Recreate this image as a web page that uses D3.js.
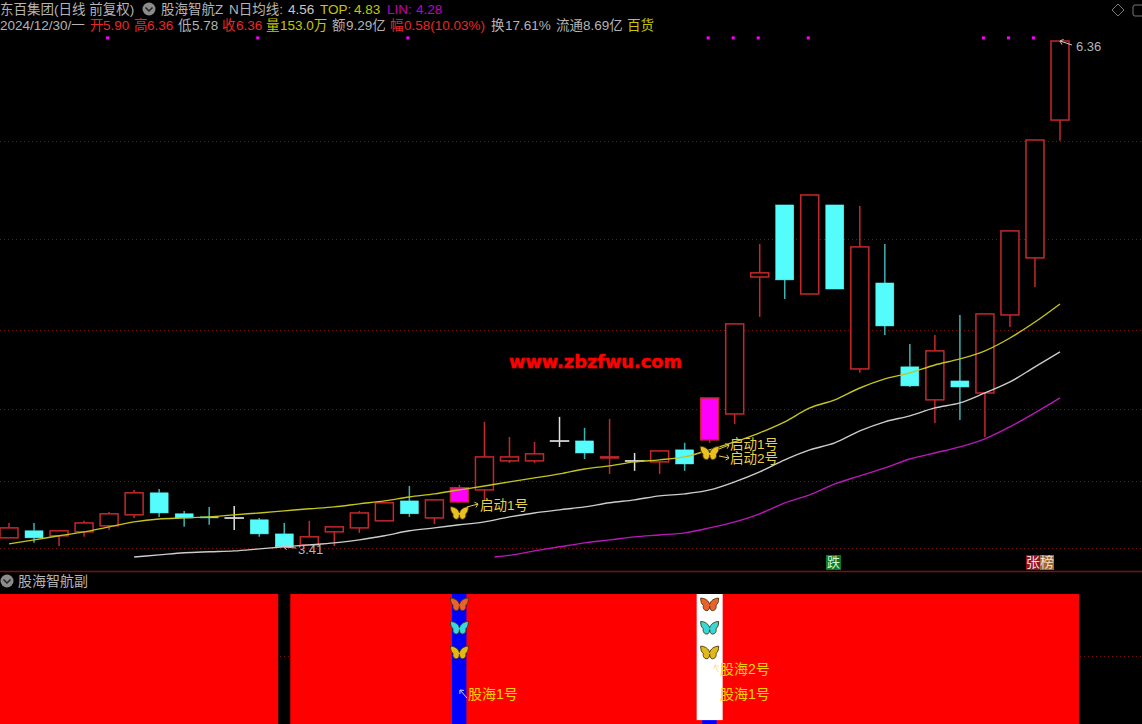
<!DOCTYPE html>
<html>
<head>
<meta charset="utf-8">
<script src="https://cdn.jsdelivr.net/npm/d3@7"></script>
<style>
  html, body { margin: 0; padding: 0; background: #000; overflow: hidden; }
  text { font-family: "Liberation Sans", "Noto Sans CJK SC", sans-serif; }
</style>
</head>
<body>
<div id="chart"></div>
<script>
// daily candles
var opens  = [3.469,3.510,3.481,3.504,3.539,3.603,3.731,3.609,3.591,3.585,3.574,3.492,3.428,3.504,3.527,3.568,3.684,3.585,3.678,3.748,3.917,3.917,4.033,4.033,3.934,3.917,3.911,3.981,4.039,4.190,4.987,5.406,4.888,5.406,4.452,4.952,4.464,4.272,4.382,4.312,4.766,5.098,5.90];
var closes = [3.527,3.469,3.510,3.556,3.609,3.731,3.614,3.585,3.585,3.585,3.492,3.417,3.475,3.533,3.614,3.673,3.609,3.690,3.760,3.940,3.940,3.958,4.033,3.963,3.940,3.917,3.975,3.899,4.283,4.714,5.011,4.970,5.464,4.917,5.162,4.702,4.353,4.557,4.347,4.772,5.255,5.784,6.36];
var highs  = [3.556,3.556,3.510,3.568,3.620,3.748,3.754,3.626,3.649,3.655,3.585,3.556,3.568,3.533,3.626,3.673,3.771,3.690,3.777,4.144,4.056,4.027,4.173,4.109,4.161,3.963,3.975,4.022,4.283,4.714,5.179,5.406,5.464,5.406,5.400,5.179,4.597,4.650,4.766,4.772,5.255,5.784,6.36];
var lows   = [3.469,3.440,3.422,3.475,3.515,3.585,3.591,3.533,3.545,3.515,3.475,3.417,3.428,3.422,3.498,3.568,3.591,3.550,3.672,3.690,3.905,3.905,3.998,3.928,3.841,3.859,3.841,3.859,4.022,4.132,4.755,4.859,4.888,4.917,4.429,4.650,4.347,4.138,4.155,4.056,4.696,4.929,5.78];
var highlighted = [18, 28];

// indicator lines
var topLine = [3.434,3.457,3.481,3.504,3.533,3.562,3.579,3.585,3.591,3.603,3.614,3.626,3.638,3.649,3.667,3.684,3.707,3.725,3.748,3.771,3.795,3.818,3.841,3.870,3.888,3.911,3.923,3.940,3.981,4.027,4.080,4.144,4.225,4.272,4.341,4.394,4.429,4.475,4.510,4.557,4.632,4.725,4.830];
var maIdx  = d3.range(5, 43);
var maLine = [3.358,3.370,3.382,3.388,3.393,3.405,3.417,3.428,3.440,3.457,3.481,3.510,3.527,3.545,3.562,3.591,3.614,3.632,3.649,3.673,3.690,3.713,3.725,3.748,3.795,3.853,3.923,3.981,4.022,4.091,4.144,4.179,4.225,4.254,4.312,4.376,4.464,4.551];
var linIdx  = [19.4].concat(d3.range(20, 43));
var linLine = [3.358,3.367,3.393,3.417,3.440,3.457,3.475,3.486,3.498,3.527,3.562,3.609,3.673,3.719,3.783,3.830,3.876,3.928,3.963,3.998,4.045,4.115,4.196,4.283];

var gridPrices = [5.78,5.21,4.68,4.22,3.80,3.41];
var dotIdx = [4,10,16,28,29,30,32,39,40,41];
var dotPrice = 6.378;

// lower panel
var subRed = d3.range(0, 43).filter(function (i) { return i != 11; });
var subGrid = [52];
var subBlue = [18, 28];
var subWhite = [28];
var subWhiteLow = 3;
var subFlyLevels = [92, 74, 55];
var subFlyColors = ["#e8622c", "#38d8d8", "#e0b818"];

var width = 1142, height = 724;
var bodyWidth = 18;

var svg = d3.select("#chart")
    .append("svg")
    .attr("width", width)
    .attr("height", height)
    .style("display", "block")
    .style("background", "#000");

var x = d3.scaleLinear().domain([0, 42]).range([9, 1060]);
var y = d3.scaleLinear().domain([3.41, 6.36]).range([548, 41]);
var ySub = d3.scaleLinear().domain([0, 100]).range([724, 594]);

// dotted grid
svg.selectAll(".grid")
    .data(gridPrices)
    .enter()
    .append("line")
    .attr("class", "grid")
    .attr("x1", 0)
    .attr("x2", width)
    .attr("y1", d => Math.round(y(d)) + 0.5)
    .attr("y2", d => Math.round(y(d)) + 0.5)
    .attr("stroke", "#7a1414")
    .attr("stroke-dasharray", "1 3");

svg.selectAll(".subgrid")
    .data(subGrid)
    .enter()
    .append("line")
    .attr("class", "subgrid")
    .attr("x1", 0)
    .attr("x2", width)
    .attr("y1", d => Math.round(ySub(d)) + 0.5)
    .attr("y2", d => Math.round(ySub(d)) + 0.5)
    .attr("stroke", "#7a1414")
    .attr("stroke-dasharray", "1 3");

// panel divider
svg.append("line")
    .attr("x1", 0).attr("x2", width)
    .attr("y1", 571.5).attr("y2", 571.5)
    .attr("stroke", "#7c1010")
    .attr("stroke-width", 1.5);

function candle_color(i) {
    if (closes[i] > opens[i]) return "#c4282c";
    if (closes[i] < opens[i]) return "#54fcfc";
    return "#e0e0e0";
}

function wick_color(i) {
    if (closes[i] < opens[i]) return "#3cb4b4";
    return candle_color(i);
}

var candles = svg.selectAll(".candle")
    .data(d3.range(opens.length))
    .enter()
    .append("g")
    .attr("class", "candle");

candles.append("line")
    .attr("x1", i => x(i)).attr("x2", i => x(i))
    .attr("y1", i => y(highs[i]))
    .attr("y2", i => y(Math.max(opens[i], closes[i])))
    .attr("stroke", wick_color)
    .attr("stroke-width", 1.5);

candles.append("line")
    .attr("x1", i => x(i)).attr("x2", i => x(i))
    .attr("y1", i => y(Math.min(opens[i], closes[i])))
    .attr("y2", i => y(lows[i]))
    .attr("stroke", wick_color)
    .attr("stroke-width", 1.5);

// a doji still needs a visible bar, so the height never goes to zero
candles.append("rect")
    .attr("x", i => x(i) - bodyWidth / 2)
    .attr("width", bodyWidth)
    .attr("y", i => y(Math.max(opens[i], closes[i])))
    .attr("height", i => Math.max(Math.abs(y(opens[i]) - y(closes[i])), 0.2))
    .attr("fill", function (i) {
	if (highlighted.indexOf(i) >= 0) return "#ff00ff";
	return closes[i] < opens[i] ? "#54fcfc" : "#000";
    })
    .attr("stroke", i => highlighted.indexOf(i) >= 0 ? "#c4282c" : candle_color(i))
    .attr("stroke-width", i => closes[i] < opens[i] ? 0.5 : 1.5);

// indicator lines
var line = d3.line()
    .x(d => x(d[0]))
    .y(d => y(d[1]))
    .curve(d3.curveMonotoneX);

svg.append("path")
    .attr("d", line(topLine.map((v, i) => [i, v])))
    .attr("fill", "none")
    .attr("stroke", "#c4c41c")
    .attr("stroke-width", 1.4);

svg.append("path")
    .attr("d", line(maLine.map((v, i) => [maIdx[i], v])))
    .attr("fill", "none")
    .attr("stroke", "#cccccc")
    .attr("stroke-width", 1.4);

svg.append("path")
    .attr("d", line(linLine.map((v, i) => [linIdx[i], v])))
    .attr("fill", "none")
    .attr("stroke", "#b818b8")
    .attr("stroke-width", 1.4);

// signal dots along the top
svg.selectAll(".dot")
    .data(dotIdx)
    .enter()
    .append("rect")
    .attr("class", "dot")
    .attr("x", d => x(d) - 3)
    .attr("y", y(dotPrice) - 1.5)
    .attr("width", 3)
    .attr("height", 3)
    .attr("fill", "#ff00ff");

var fly = "M0,0 C-1,-4 -5,-7 -10,-7 C-10,-3 -9,0 -7,1 C-8,4 -6,7 -3,7 C-1,7 0,4 0,2 C0,4 1,7 3,7 C6,7 8,4 7,1 C9,0 10,-3 10,-7 C5,-7 1,-4 0,0Z";

function draw_fly(px, py, color, scale) {
    svg.append("path")
	.attr("d", fly)
	.attr("transform", "translate(" + px + "," + py + ") scale(" + scale + ")")
	.attr("fill", color)
	.attr("stroke", "#4a3408")
	.attr("stroke-width", 1);
}

function label(px, py, txt, color, size) {
    return svg.append("text")
	.attr("x", px)
	.attr("y", py)
	.attr("font-size", size)
	.attr("fill", color)
	.text(txt);
}

function arrow(x1, y1, x2, y2, color) {
    svg.append("line")
	.attr("x1", x1).attr("y1", y1)
	.attr("x2", x2).attr("y2", y2)
	.attr("stroke", color)
	.attr("stroke-width", 1);
    var a = Math.atan2(y2 - y1, x2 - x1);
    [2.5, -2.5].forEach(function (t) {
	svg.append("line")
	    .attr("x1", x2).attr("y1", y2)
	    .attr("x2", x2 - 4 * Math.cos(a + t * 0.3))
	    .attr("y2", y2 - 4 * Math.sin(a + t * 0.3))
	    .attr("stroke", color)
	    .attr("stroke-width", 1);
    });
}

// start markers on the candles
var gold = "#e8d048";
draw_fly(x(18), 513, "#e8c020", 0.9);
draw_fly(x(28), 453, "#e8c020", 0.95);
arrow(467, 507, 478, 504, gold);
label(480, 510, "启动1号", gold, 13.5);
arrow(719, 449, 729, 445, gold);
arrow(719, 456, 729, 458, gold);
label(730, 449, "启动1号", gold, 13.5);
label(730, 463, "启动2号", gold, 13.5);

// high and low tags
arrow(1072, 45, 1060, 41, "#c8c8c8");
label(1076, 51, "6.36", "#b4b4b4", 13);
arrow(296, 548, 284, 547, "#c8c8c8");
label(298, 554, "3.41", "#b4b4b4", 13);

// watermark
svg.append("text")
    .attr("x", 509)
    .attr("y", 368)
    .attr("font-size", 17.6)
    .attr("font-weight", "bold")
    .style("font-family", "'DejaVu Sans', sans-serif")
    .attr("fill", "#ff0000")
    .attr("stroke", "#ff0000")
    .attr("stroke-width", 0.5)
    .attr("textLength", 173)
    .attr("lengthAdjust", "spacingAndGlyphs")
    .text("www.zbzfwu.com");

// tags above the divider
svg.append("rect").attr("x", 826).attr("y", 555).attr("width", 15).attr("height", 15).attr("fill", "#0c7a22");
label(827, 567, "跌", "#d4f4d4", 13);
svg.append("rect").attr("x", 1026).attr("y", 555).attr("width", 14).attr("height", 15).attr("fill", "#8c1224");
svg.append("rect").attr("x", 1040).attr("y", 555).attr("width", 14).attr("height", 15).attr("fill", "#a0682c");
label(1026, 567, "张榜", "#f0dcd0", 14);

// lower panel bars
var subBar = 38;
svg.selectAll(".subred")
    .data(subRed)
    .enter()
    .append("rect")
    .attr("class", "subred")
    .attr("x", d => x(d) - subBar / 2)
    .attr("width", subBar)
    .attr("y", ySub(100))
    .attr("height", ySub(0) - ySub(100))
    .attr("fill", "#ff0000");

svg.selectAll(".subblue")
    .data(subBlue)
    .enter()
    .append("rect")
    .attr("class", "subblue")
    .attr("x", d => x(d) - 7.5)
    .attr("width", 14.5)
    .attr("y", ySub(100))
    .attr("height", ySub(0) - ySub(100))
    .attr("fill", "#0000ff");

svg.selectAll(".subwhite")
    .data(subWhite)
    .enter()
    .append("rect")
    .attr("class", "subwhite")
    .attr("x", d => x(d) - 13)
    .attr("width", 26)
    .attr("y", ySub(100))
    .attr("height", ySub(subWhiteLow) - ySub(100))
    .attr("fill", "#ffffff");

subBlue.forEach(function (i) {
    subFlyLevels.forEach(function (lv, k) {
	draw_fly(x(i), ySub(lv), subFlyColors[k], 0.9);
    });
});

var subText = "#ffd400";
arrow(467, 698, 460, 690, "#d0d0ff");
label(468, 699, "股海1号", subText, 14);
arrow(718, 672, 715, 665, "#ffe0a0");
label(720, 674, "股海2号", subText, 14);
label(720, 699, "股海1号", subText, 14);

// header icons
function chevron_icon(cx, cy) {
    svg.append("circle").attr("cx", cx).attr("cy", cy).attr("r", 6.5).attr("fill", "#8c8c8c");
    svg.append("path")
	.attr("d", "M" + (cx - 3.5) + "," + (cy - 1.5) + " L" + cx + "," + (cy + 2) + " L" + (cx + 3.5) + "," + (cy - 1.5))
	.attr("fill", "none")
	.attr("stroke", "#222")
	.attr("stroke-width", 1.5);
}
chevron_icon(149, 9);
chevron_icon(7, 581);

// header text: first row
var gray = "#b4b4b4", red = "#e82828", olive = "#c8c800", violet = "#c000c0";
var row1 = [
    [0, "东百集团(日线 前复权)", gray],
    [161, "股海智航Z", gray],
    [229, "N日均线:", gray],
    [288, "4.56", "#c8c8c8"],
    [320, "TOP:", olive],
    [354, "4.83", olive],
    [387, "LIN:", violet],
    [416, "4.28", violet]
];
var row2 = [
    [0, "2024/12/30/一", gray],
    [90, "开", red],
    [103, "5.90", red],
    [134, "高", red],
    [147, "6.36", red],
    [178, "低", gray],
    [192, "5.78", gray],
    [222, "收", red],
    [236, "6.36", red],
    [266, "量", olive],
    [280, "153.0万", olive],
    [332, "额", gray],
    [346, "9.29亿", gray],
    [390, "幅", red],
    [404, "0.58(10.03%)", red],
    [491, "换", gray],
    [505, "17.61%", gray],
    [556, "流通", gray],
    [583, "8.69亿", gray],
    [627, "百货", olive]
];

svg.selectAll(".row1")
    .data(row1)
    .enter()
    .append("text")
    .attr("class", "row1")
    .attr("x", d => d[0])
    .attr("y", 14)
    .attr("font-size", 13.5)
    .attr("fill", d => d[2])
    .text(d => d[1]);

svg.selectAll(".row2")
    .data(row2)
    .enter()
    .append("text")
    .attr("class", "row2")
    .attr("x", d => d[0])
    .attr("y", 30)
    .attr("font-size", 13.5)
    .attr("fill", d => d[2])
    .text(d => d[1]);

label(18, 586, "股海智航副", gray, 14);

// window icons, top right
svg.append("path")
    .attr("d", "M1118,4 L1124,10 L1118,16 L1112,10 Z")
    .attr("fill", "none")
    .attr("stroke", "#777");
svg.append("rect")
    .attr("x", 1133).attr("y", 5)
    .attr("width", 12).attr("height", 11)
    .attr("rx", 2)
    .attr("fill", "none")
    .attr("stroke", "#777");
</script>
</body>
</html>
